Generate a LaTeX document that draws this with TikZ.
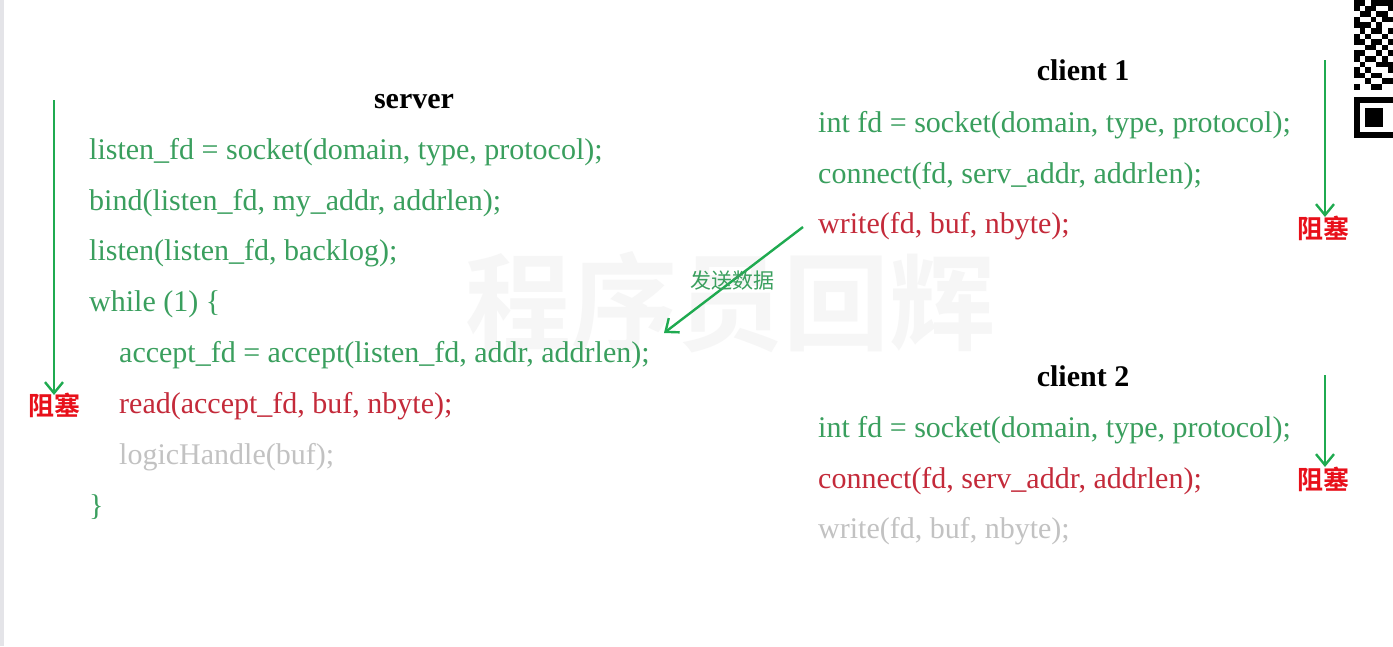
\documentclass[tikz,border=0pt]{standalone}
\usepackage{fontspec}
\setmainfont{Liberation Serif}
\newfontfamily\cjk{Noto Sans CJK SC}
\newfontfamily\cjkb{Noto Sans CJK SC Bold}
\usetikzlibrary{arrows.meta}
\definecolor{codegreen}{HTML}{3A9F5E}
\definecolor{codered}{HTML}{C42A3A}
\definecolor{codegray}{HTML}{C2C2C2}
\definecolor{arrgreen}{HTML}{1FAA50}
\definecolor{blockred}{HTML}{E8101A}
\definecolor{wmark}{HTML}{F6F6F6}
\definecolor{edgegray}{HTML}{E4E4E8}
\tikzset{
  code/.style={anchor=base west, inner sep=0pt, font=\fontsize{30}{34}\selectfont},
  gcode/.style={code, text=codegreen},
  rcode/.style={code, text=codered},
  ycode/.style={code, text=codegray},
  head/.style={anchor=base, inner sep=0pt, font=\fontsize{30}{34}\selectfont\bfseries, text=black},
  blocked/.style={inner sep=0pt, font=\fontsize{26}{30}\selectfont\cjkb, text=blockred},
  flow/.style={draw=arrgreen, line width=2.4pt, -{Straight Barb[length=11pt,width=18pt,line width=2.4pt]}},
}
\begin{document}
\begin{tikzpicture}[x=1pt,y=-1pt]
\useasboundingbox (0,0) rectangle (1393,646);
\fill[white] (0,0) rectangle (1393,646);
\fill[edgegray] (0,0) rectangle (4,646);
% watermark
\node[inner sep=0pt, font=\fontsize{106}{110}\selectfont\cjkb, text=wmark] (wm) at (730,302) {程序员回辉};
% server
\node[head] (srv) at (414,108) {server};
\node[gcode] (s1) at (89,159) {listen\_fd = socket(domain, type, protocol);};
\node[gcode] (s2) at (89,210) {bind(listen\_fd, my\_addr, addrlen);};
\node[gcode] (s3) at (89,260) {listen(listen\_fd, backlog);};
\node[gcode] (s4) at (89,311) {while (1) \{};
\node[gcode] (s5) at (119,362) {accept\_fd = accept(listen\_fd, addr, addrlen);};
\node[rcode] (s6) at (119,413) {read(accept\_fd, buf, nbyte);};
\node[ycode] (s7) at (119,464) {logicHandle(buf);};
\node[gcode] (s8) at (89,515) {\}};
% client 1
\node[head] (c1) at (1083,80) {client 1};
\node[gcode] (a1) at (818,132) {int fd = socket(domain, type, protocol);};
\node[gcode] (a2) at (818,183) {connect(fd, serv\_addr, addrlen);};
\node[rcode] (a3) at (818,233) {write(fd, buf, nbyte);};
% client 2
\node[head] (c2) at (1083,386) {client 2};
\node[gcode] (b1) at (818,437) {int fd = socket(domain, type, protocol);};
\node[rcode] (b2) at (818,488) {connect(fd, serv\_addr, addrlen);};
\node[ycode] (b3) at (818,538) {write(fd, buf, nbyte);};
% blocking markers
\node[blocked] (k0) at (54,405) {阻塞};
\node[blocked] (k1) at (1323,228) {阻塞};
\node[blocked] (k2) at (1323,479) {阻塞};
\coordinate (l0a) at (54,100);
\coordinate (l0b) at (54,395);
\coordinate (l1a) at (1325,60);
\coordinate (l1b) at (1325,217);
\coordinate (l2a) at (1325,375);
\coordinate (l2b) at (1325,467);
\draw[flow] (l0a) -- (l0b);
\draw[flow] (l1a) -- (l1b);
\draw[flow] (l2a) -- (l2b);
% send arrow
\coordinate (da) at (803,227);
\coordinate (db) at (664,333);
\draw[flow] (da) -- (db);
\node[inner sep=0pt, font=\fontsize{21}{24}\selectfont\cjk, text=codegreen] (send) at (732,281) {发送数据};
% QR code fragment
\begin{scope}[shift={(1354,0)}]
\def\m{5.6}
\foreach \c/\r in {0/0,1/0,3/0,4/0,5/0,6/0, 0/1,2/1,3/1,6/1, 1/2,2/2,4/2,5/2, 0/3,3/3,5/3,6/3, 0/4,1/4,2/4,4/4, 1/5,3/5,4/5,6/5, 0/6,2/6,5/6, 0/7,1/7,3/7,4/7,6/7, 2/8,3/8,5/8, 0/9,1/9,4/9,6/9, 0/10,2/10,3/10,5/10, 1/11,4/11,5/11,6/11, 0/12,2/12,6/12, 0/13,1/13,3/13,4/13, 2/14,5/14,6/14, 0/15,3/15,4/15}
  \fill[black] (\c*\m,\r*\m) rectangle ++(\m,\m);
\fill[black] (0,97) rectangle (39,138);
\fill[white] (6,103) rectangle (39,132);
\fill[black] (11,108) rectangle (29,127);
\end{scope}
\end{tikzpicture}
\end{document}
